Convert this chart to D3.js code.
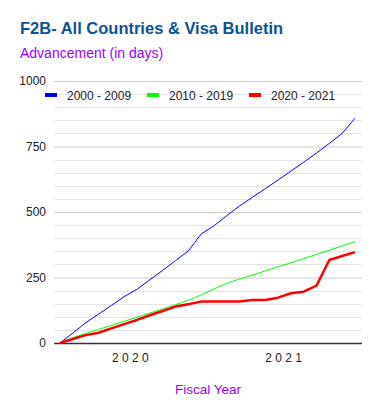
<!DOCTYPE html>
<meta charset="utf-8">
<head>
	<script src="https://d3js.org/d3.v7.min.js"></script>
	<style>
		body { margin: 0; background: #fff; }
		text { font-family: Arial, "Liberation Sans", sans-serif; }
	</style>
</head>
<body>
<div id="D3_Chart"></div>
<script>
	'use strict';

	// month index across the two fiscal years
	var monthIndex = d3.range(24);
	var seriesNames = ['2000 - 2009', '2010 - 2019', '2020 - 2021'];
	var seriesColors = ['#0000ff', '#00ff00', '#ff0000'];
	var seriesWidths = [1, 1, 2.5];
	var blueValues = [0, 38, 77, 110, 143, 177, 205, 241, 277, 314, 351, 416, 447, 486, 523, 556, 589, 622, 656, 690, 725, 762, 800, 858];
	var greenValues = [0, 20, 37, 52, 67, 83, 98, 114, 130, 146, 163, 183, 206, 228, 244, 259, 275, 291, 306, 322, 338, 354, 371, 387];
	var redValues = [0, 15, 30, 39, 56, 72, 88, 106, 122, 139, 148, 158, 158, 158, 158, 164, 164, 173, 190, 196, 219, 317, 332, 347];
	var yTicks = [0, 250, 500, 750, 1000];
	var xTickPos = [5.45, 17.4];
	var xTickLabels = ['2 0 2 0', '2 0 2 1'];

	var width = 381, height = 417;
	var margin = { top: 81, left: 54, right: 19, bottom: 74 };
	var plotW = width - margin.left - margin.right;
	var plotH = height - margin.top - margin.bottom;

	var svg = d3.select('#D3_Chart').append('svg')
		.attr('width', width)
		.attr('height', height);

	svg.append('text')
		.attr('x', 20).attr('y', 34)
		.attr('fill', '#0b5394')
		.attr('font-size', 16.5).attr('font-weight', 'bold')
		.text('F2B- All Countries & Visa Bulletin');

	svg.append('text')
		.attr('x', 20).attr('y', 58)
		.attr('fill', '#9900ff')
		.attr('font-size', 14)
		.text('Advancement (in days)');

	var g = svg.append('g')
		.attr('transform', 'translate(' + margin.left + ',' + margin.top + ')');

	var xscale = d3.scaleLinear().domain([0, 23]).range([6, plotW - 7]);
	var yscale = d3.scaleLinear().domain([0, 1000]).range([plotH, 0]);

	// minor gridlines every 50
	g.selectAll('.minor').data(d3.range(50, 1000, 50).filter(function (v) { return v % 250 !== 0; }))
		.enter().append('line')
		.attr('x1', 0).attr('x2', plotW)
		.attr('y1', function (d) { return Math.round(yscale(d)) + 0.5; })
		.attr('y2', function (d) { return Math.round(yscale(d)) + 0.5; })
		.attr('stroke', '#e4e4e4');

	var yaxis = d3.axisLeft(yscale).tickValues(yTicks).tickFormat(d3.format('d'))
		.tickSize(-plotW).tickPadding(8);
	var ya = g.append('g').call(yaxis);
	ya.select('.domain').remove();
	ya.selectAll('line').attr('stroke', '#cccccc');
	ya.selectAll('text').attr('font-size', 12).attr('fill', '#222').attr('x', -8);

	// baseline
	g.append('line')
		.attr('x1', 0).attr('x2', plotW)
		.attr('y1', plotH + 0.5).attr('y2', plotH + 0.5)
		.attr('stroke', '#333').attr('stroke-width', 1.5);

	var xaxis = d3.axisBottom(xscale).tickValues(xTickPos)
		.tickFormat(function (d, i) { return xTickLabels[i]; })
		.tickSize(0).tickPadding(10);
	var xa = g.append('g').attr('transform', 'translate(0,' + plotH + ')').call(xaxis);
	xa.select('.domain').remove();
	xa.selectAll('text').attr('font-size', 12).attr('fill', '#222');

	var allSeries = [blueValues, greenValues, redValues];
	var line = d3.line()
		.x(function (d, i) { return xscale(monthIndex[i]); })
		.y(function (d) { return yscale(d); });

	allSeries.forEach(function (vals, k) {
		g.append('path')
			.datum(vals)
			.attr('fill', 'none')
			.attr('stroke', seriesColors[k])
			.attr('stroke-width', seriesWidths[k])
			.attr('stroke-linejoin', 'round')
			.attr('d', line);
	});

	// legend
	var legendX = [45, 147, 249];
	var leg = svg.append('g');
	seriesNames.forEach(function (name, k) {
		leg.append('rect')
			.attr('x', legendX[k]).attr('y', 93)
			.attr('width', 12).attr('height', 4)
			.attr('fill', seriesColors[k]);
		leg.append('text')
			.attr('x', legendX[k] + 22).attr('y', 99.5)
			.attr('font-size', 12).attr('fill', '#222')
			.text(name);
	});

	svg.append('text')
		.attr('x', 208).attr('y', 394)
		.attr('text-anchor', 'middle')
		.attr('fill', '#9900ff')
		.attr('font-size', 13.5)
		.text('Fiscal Year');
</script>
</body>
